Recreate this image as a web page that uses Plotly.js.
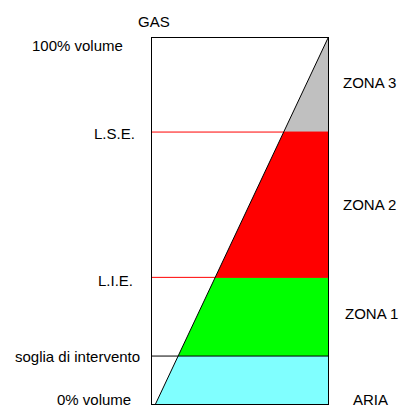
<!DOCTYPE html>
<html><head><meta charset="utf-8">
<script src="https://cdn.plot.ly/plotly-3.0.1.min.js"></script>
<style>html,body{margin:0;padding:0;background:#fff}#chart{width:409px;height:409px}</style>
</head><body><div id="chart"></div>
<script>
// Gas concentration levels (% volume)
const levelNames = ["0% volume", "soglia di intervento", "L.I.E.", "L.S.E.", "100% volume"];
const levelValues = [0, 13.1, 34.6, 74.3, 100];
// Zones between consecutive levels
const zoneNames = ["ARIA", "ZONA 1", "ZONA 2", "ZONA 3"];
const zoneColors = ["#80FFFF", "#00FF00", "#FF0000", "#C0C0C0"];
// Diagonal (gas fraction) endpoints
const diagX = [0.02, 1];
const diagY = [0, 100];

const traces = [];
// zone bands
for (let i = 0; i < zoneNames.length; i++) {
  const lo = levelValues[i], hi = levelValues[i + 1];
  traces.push({x: [0, 1, 1, 0, 0], y: [lo, lo, hi, hi, lo], mode: 'lines', fill: 'toself',
    fillcolor: zoneColors[i], line: {width: 0, color: zoneColors[i]}, hoverinfo: 'skip'});
}
// white area left of diagonal
traces.push({x: [0, diagX[0], diagX[1], 0, 0], y: [diagY[0], diagY[0], diagY[1], diagY[1], diagY[0]],
  mode: 'lines', fill: 'toself', fillcolor: '#ffffff', line: {width: 0, color: '#fff'}, hoverinfo: 'skip'});
// red lines at L.I.E. and L.S.E.
[2, 3].forEach(k => traces.push({x: [0, 1], y: [levelValues[k], levelValues[k]], mode: 'lines',
  line: {color: '#FF0000', width: 1}, hoverinfo: 'skip'}));
// black line at intervention threshold
traces.push({x: [0, 1], y: [levelValues[1], levelValues[1]], mode: 'lines',
  line: {color: '#000000', width: 1}, hoverinfo: 'skip'});
// diagonal
traces.push({x: diagX, y: diagY, mode: 'lines', line: {color: '#000000', width: 1}, hoverinfo: 'skip'});

const font = {family: 'Liberation Sans, Arial, sans-serif', size: 15, color: '#000'};
const leftRight = [133, 142, 135, 137, 125]; // right edge pixel of label
const leftShift = [5, 0, -3, -1, -7];
const annotations = [];
levelNames.forEach((t, i) => annotations.push({text: t, xref: 'paper', yref: 'y',
  x: (leftRight[i] - 152) / 176, y: levelValues[i], xanchor: 'right', yanchor: 'middle',
  yshift: leftShift[i], showarrow: false, font: font}));
const zoneCenterPx = [399, 313, 205, 82];
const zoneCenterX = [370, 371, 369, 369];
zoneNames.forEach((t, i) => annotations.push({text: t, xref: 'paper', yref: 'paper',
  x: (zoneCenterX[i] - 152) / 176, y: (404 - zoneCenterPx[i]) / 366, xanchor: 'center', yanchor: 'middle',
  showarrow: false, font: font}));
annotations.push({text: 'GAS', xref: 'paper', yref: 'paper', x: (154 - 152) / 176, y: (404 - 21) / 366,
  xanchor: 'center', yanchor: 'middle', showarrow: false, font: font});

const layout = {
  width: 409, height: 409,
  margin: {l: 152, r: 81, t: 38, b: 5, pad: 0},
  paper_bgcolor: '#fff', plot_bgcolor: '#fff',
  showlegend: false,
  xaxis: {range: [0, 1], showgrid: false, zeroline: false, showticklabels: false, ticks: '',
    showline: true, mirror: true, linecolor: '#000', linewidth: 1, fixedrange: true},
  yaxis: {range: [0, 100], showgrid: false, zeroline: false, showticklabels: false, ticks: '',
    showline: true, mirror: true, linecolor: '#000', linewidth: 1, fixedrange: true},
  annotations: annotations,
  font: font
};
Plotly.newPlot('chart', traces, layout, {staticPlot: true, displayModeBar: false});
</script></body></html>
